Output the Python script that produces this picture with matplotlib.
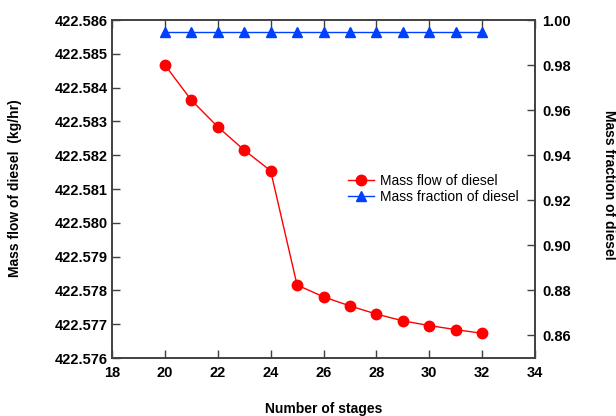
import matplotlib
matplotlib.use("Agg")
import matplotlib.pyplot as plt

stages = [20, 21, 22, 23, 24, 25, 26, 27, 28, 29, 30, 31, 32]
mass_flow = [422.58467, 422.58363, 422.58284, 422.58215, 422.58154, 422.57816,
             422.57781, 422.57754, 422.57730, 422.57710, 422.57696, 422.57684, 422.57673]
mass_fraction = [0.9945] * 13
left_ticks = [422.576, 422.577, 422.578, 422.579, 422.580, 422.581,
              422.582, 422.583, 422.584, 422.585, 422.586]
right_ticks = [0.86, 0.88, 0.90, 0.92, 0.94, 0.96, 0.98, 1.00]
x_ticks = [18, 20, 22, 24, 26, 28, 30, 32, 34]

plt.rcParams['font.family'] = ['Liberation Sans', 'DejaVu Sans']
spine_c = '#404040'

fig = plt.figure(figsize=(6.16, 4.16), dpi=100)
ax = fig.add_axes([112/616, 1-358/416, (535-112)/616, (358-20)/416])
ax2 = ax.twinx()

l1, = ax.plot(stages, mass_flow, color='#ff0000', marker='o', markersize=7.5,
              linewidth=1, label='Mass flow of diesel')
l2, = ax2.plot(stages, mass_fraction, color='#0040ff', marker='^', markersize=7.5,
               linewidth=1, label='Mass fraction of diesel')

ax.set_xlim(18, 34)
ax.set_ylim(422.576, 422.586)
ax2.set_ylim(0.85, 1.00)
ax.set_xticks(x_ticks)
ax.set_yticks(left_ticks)
ax.set_yticklabels([f"{v:.3f}" for v in left_ticks])
ax2.set_yticks(right_ticks)
ax2.set_yticklabels([f"{v:.2f}" for v in right_ticks])

for a in (ax, ax2):
    for s in a.spines.values():
        s.set_color(spine_c)
        s.set_linewidth(1.2)
    for lab in a.get_xticklabels() + a.get_yticklabels():
        lab.set_fontweight('bold')
        lab.set_fontsize(10.5)

ax.tick_params(axis='x', direction='in', top=True, length=6, width=1, color=spine_c, pad=6)
ax.tick_params(axis='y', direction='in', length=6, width=1, color=spine_c, pad=3)
ax2.tick_params(axis='y', direction='in', length=6, width=1, color=spine_c, pad=5)

ax.set_xlabel('Number of stages', fontsize=10, fontweight='bold')
ax.xaxis.set_label_coords(0.5, (358-409)/338)
ax.xaxis.label.set_va('center')
ax.set_ylabel('Mass flow of diesel  (kg/hr)', fontsize=10, fontweight='bold')
ax.yaxis.set_label_coords((15-112)/423, 0.503)
ax.yaxis.label.set_va('center')
ax2.set_ylabel('Mass fraction of diesel', fontsize=10, fontweight='bold', rotation=270)
ax2.yaxis.set_label_coords((609-112)/423, 0.512)
ax2.yaxis.label.set_va('center')

ax.legend(handles=[l1, l2], loc='upper left', bbox_to_anchor=(0.544, 0.56),
          frameon=False, fontsize=10, handlelength=1.9, handletextpad=0.4,
          labelspacing=0.15, borderaxespad=0)

fig.savefig('out.png', dpi=100)
